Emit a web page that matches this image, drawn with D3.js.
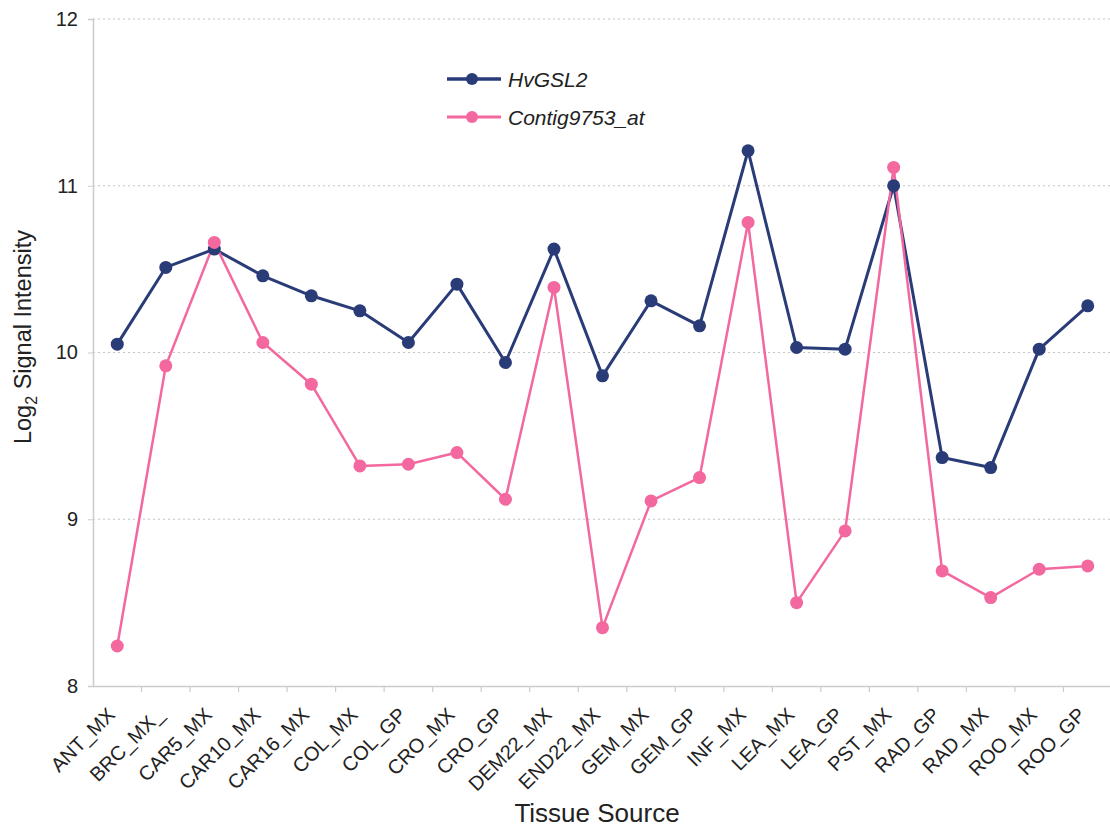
<!DOCTYPE html>
<html>
<head>
<meta charset="utf-8">
<script src="https://cdn.jsdelivr.net/npm/d3@7/dist/d3.min.js"></script>
<style>
  html, body { margin: 0; padding: 0; background: #fff; }
  svg text { font-family: "Liberation Sans", Arial, sans-serif; fill: #222; }
</style>
</head>
<body>
<svg id="chart" width="1110" height="830"></svg>
<script>
// Tissue sources along the x axis
const tissues = ["ANT_MX", "BRC_MX_", "CAR5_MX", "CAR10_MX", "CAR16_MX", "COL_MX", "COL_GP",
  "CRO_MX", "CRO_GP", "DEM22_MX", "END22_MX", "GEM_MX", "GEM_GP", "INF_MX", "LEA_MX",
  "LEA_GP", "PST_MX", "RAD_GP", "RAD_MX", "ROO_MX", "ROO_GP"];

// Log2 signal intensity per tissue
const hvgsl2 = [10.05, 10.51, 10.62, 10.46, 10.34, 10.25, 10.06, 10.41, 9.94, 10.62, 9.86,
  10.31, 10.16, 11.21, 10.03, 10.02, 11.00, 9.37, 9.31, 10.02, 10.28];
const contig9753 = [8.24, 9.92, 10.66, 10.06, 9.81, 9.32, 9.33, 9.40, 9.12, 10.39, 8.35,
  9.11, 9.25, 10.78, 8.50, 8.93, 11.11, 8.69, 8.53, 8.70, 8.72];

const yTicks = [8, 9, 10, 11, 12];

const seriesNames = ["HvGSL2", "Contig9753_at"];
const seriesColors = ["#2a3c78", "#f2689f"];
const seriesWidths = [3, 2.5];

const svg = d3.select("#chart");
const plotLeft = 93, plotRight = 1112, plotTop = 19, plotBottom = 686;

const x = d3.scaleBand().domain(tissues).range([plotLeft, plotRight]);
const y = d3.scaleLinear().domain([8, 12]).range([plotBottom, plotTop]);
const cx = d => x(d) + x.bandwidth() / 2;

// Dotted horizontal gridlines
svg.append("g")
  .selectAll("line")
  .data(yTicks.filter(d => d > 8))
  .join("line")
  .attr("x1", plotLeft).attr("x2", plotRight)
  .attr("y1", d => y(d)).attr("y2", d => y(d))
  .attr("stroke", "#c4c4c4")
  .attr("stroke-width", 1.2)
  .attr("stroke-dasharray", "2,3");

// Y axis
const yAxis = svg.append("g")
  .attr("transform", `translate(${plotLeft},0)`)
  .call(d3.axisLeft(y).tickValues(yTicks).tickFormat(d3.format("d")).tickSize(5).tickPadding(10));
yAxis.select(".domain").attr("stroke", "#cccccc").attr("stroke-width", 1.5);
yAxis.selectAll(".tick line").attr("stroke", "#cccccc");
yAxis.selectAll(".tick text")
  .style("font-size", "20px")
  .style("font-family", "'Liberation Sans', Arial, sans-serif")
  .attr("fill", "#222");

// X axis with ticks between categories
const xAxis = svg.append("g")
  .attr("transform", `translate(0,${plotBottom})`)
  .call(d3.axisBottom(x).tickSize(0).tickFormat(""));
xAxis.select(".domain").attr("stroke", "#cccccc").attr("stroke-width", 1.5);
xAxis.selectAll(".tick").remove();

svg.append("g")
  .selectAll("line")
  .data(tissues.slice(1))
  .join("line")
  .attr("x1", d => x(d)).attr("x2", d => x(d))
  .attr("y1", plotBottom).attr("y2", plotBottom + 6)
  .attr("stroke", "#cccccc")
  .attr("stroke-width", 1.2);

// Rotated category labels
svg.append("g")
  .selectAll("text")
  .data(tissues)
  .join("text")
  .attr("transform", d => `translate(${cx(d) - 1},${plotBottom + 30}) rotate(-45)`)
  .attr("text-anchor", "end")
  .style("font-size", "20px")
  .text(d => d);

// Axis titles
svg.append("text")
  .attr("x", 597).attr("y", 822)
  .attr("text-anchor", "middle")
  .style("font-size", "26px")
  .text("Tissue Source");

const yTitle = svg.append("text")
  .attr("transform", "translate(31,337) rotate(-90)")
  .attr("text-anchor", "middle")
  .style("font-size", "23.5px");
yTitle.append("tspan").text("Log");
yTitle.append("tspan").attr("dy", 6).style("font-size", "16px").text("2");
yTitle.append("tspan").attr("dy", -6).text(" Signal Intensity");

// Series lines
const line = d3.line()
  .x((d, i) => cx(tissues[i]))
  .y(d => y(d));

[hvgsl2, contig9753].forEach((values, s) => {
  svg.append("path")
    .datum(values)
    .attr("fill", "none")
    .attr("stroke", seriesColors[s])
    .attr("stroke-width", seriesWidths[s])
    .attr("stroke-linejoin", "round")
    .attr("d", line);
});

// Markers, pink drawn last so it sits on top where the series overlap
[hvgsl2, contig9753].forEach((values, s) => {
  svg.append("g")
    .selectAll("circle")
    .data(values)
    .join("circle")
    .attr("cx", (d, i) => cx(tissues[i]))
    .attr("cy", d => y(d))
    .attr("r", 6.5)
    .attr("fill", seriesColors[s]);
});

// Legend
const legend = svg.append("g").attr("transform", "translate(447,79)");
seriesNames.forEach((name, s) => {
  const g = legend.append("g").attr("transform", `translate(0,${s * 38})`);
  g.append("line")
    .attr("x1", 0).attr("x2", 54)
    .attr("stroke", seriesColors[s])
    .attr("stroke-width", seriesWidths[s] + 0.5);
  g.append("circle").attr("cx", 25).attr("r", 6).attr("fill", seriesColors[s]);
  g.append("text")
    .attr("x", 61).attr("dy", "0.36em")
    .style("font-size", "21px")
    .style("font-style", "italic")
    .text(name);
});
</script>
</body>
</html>
